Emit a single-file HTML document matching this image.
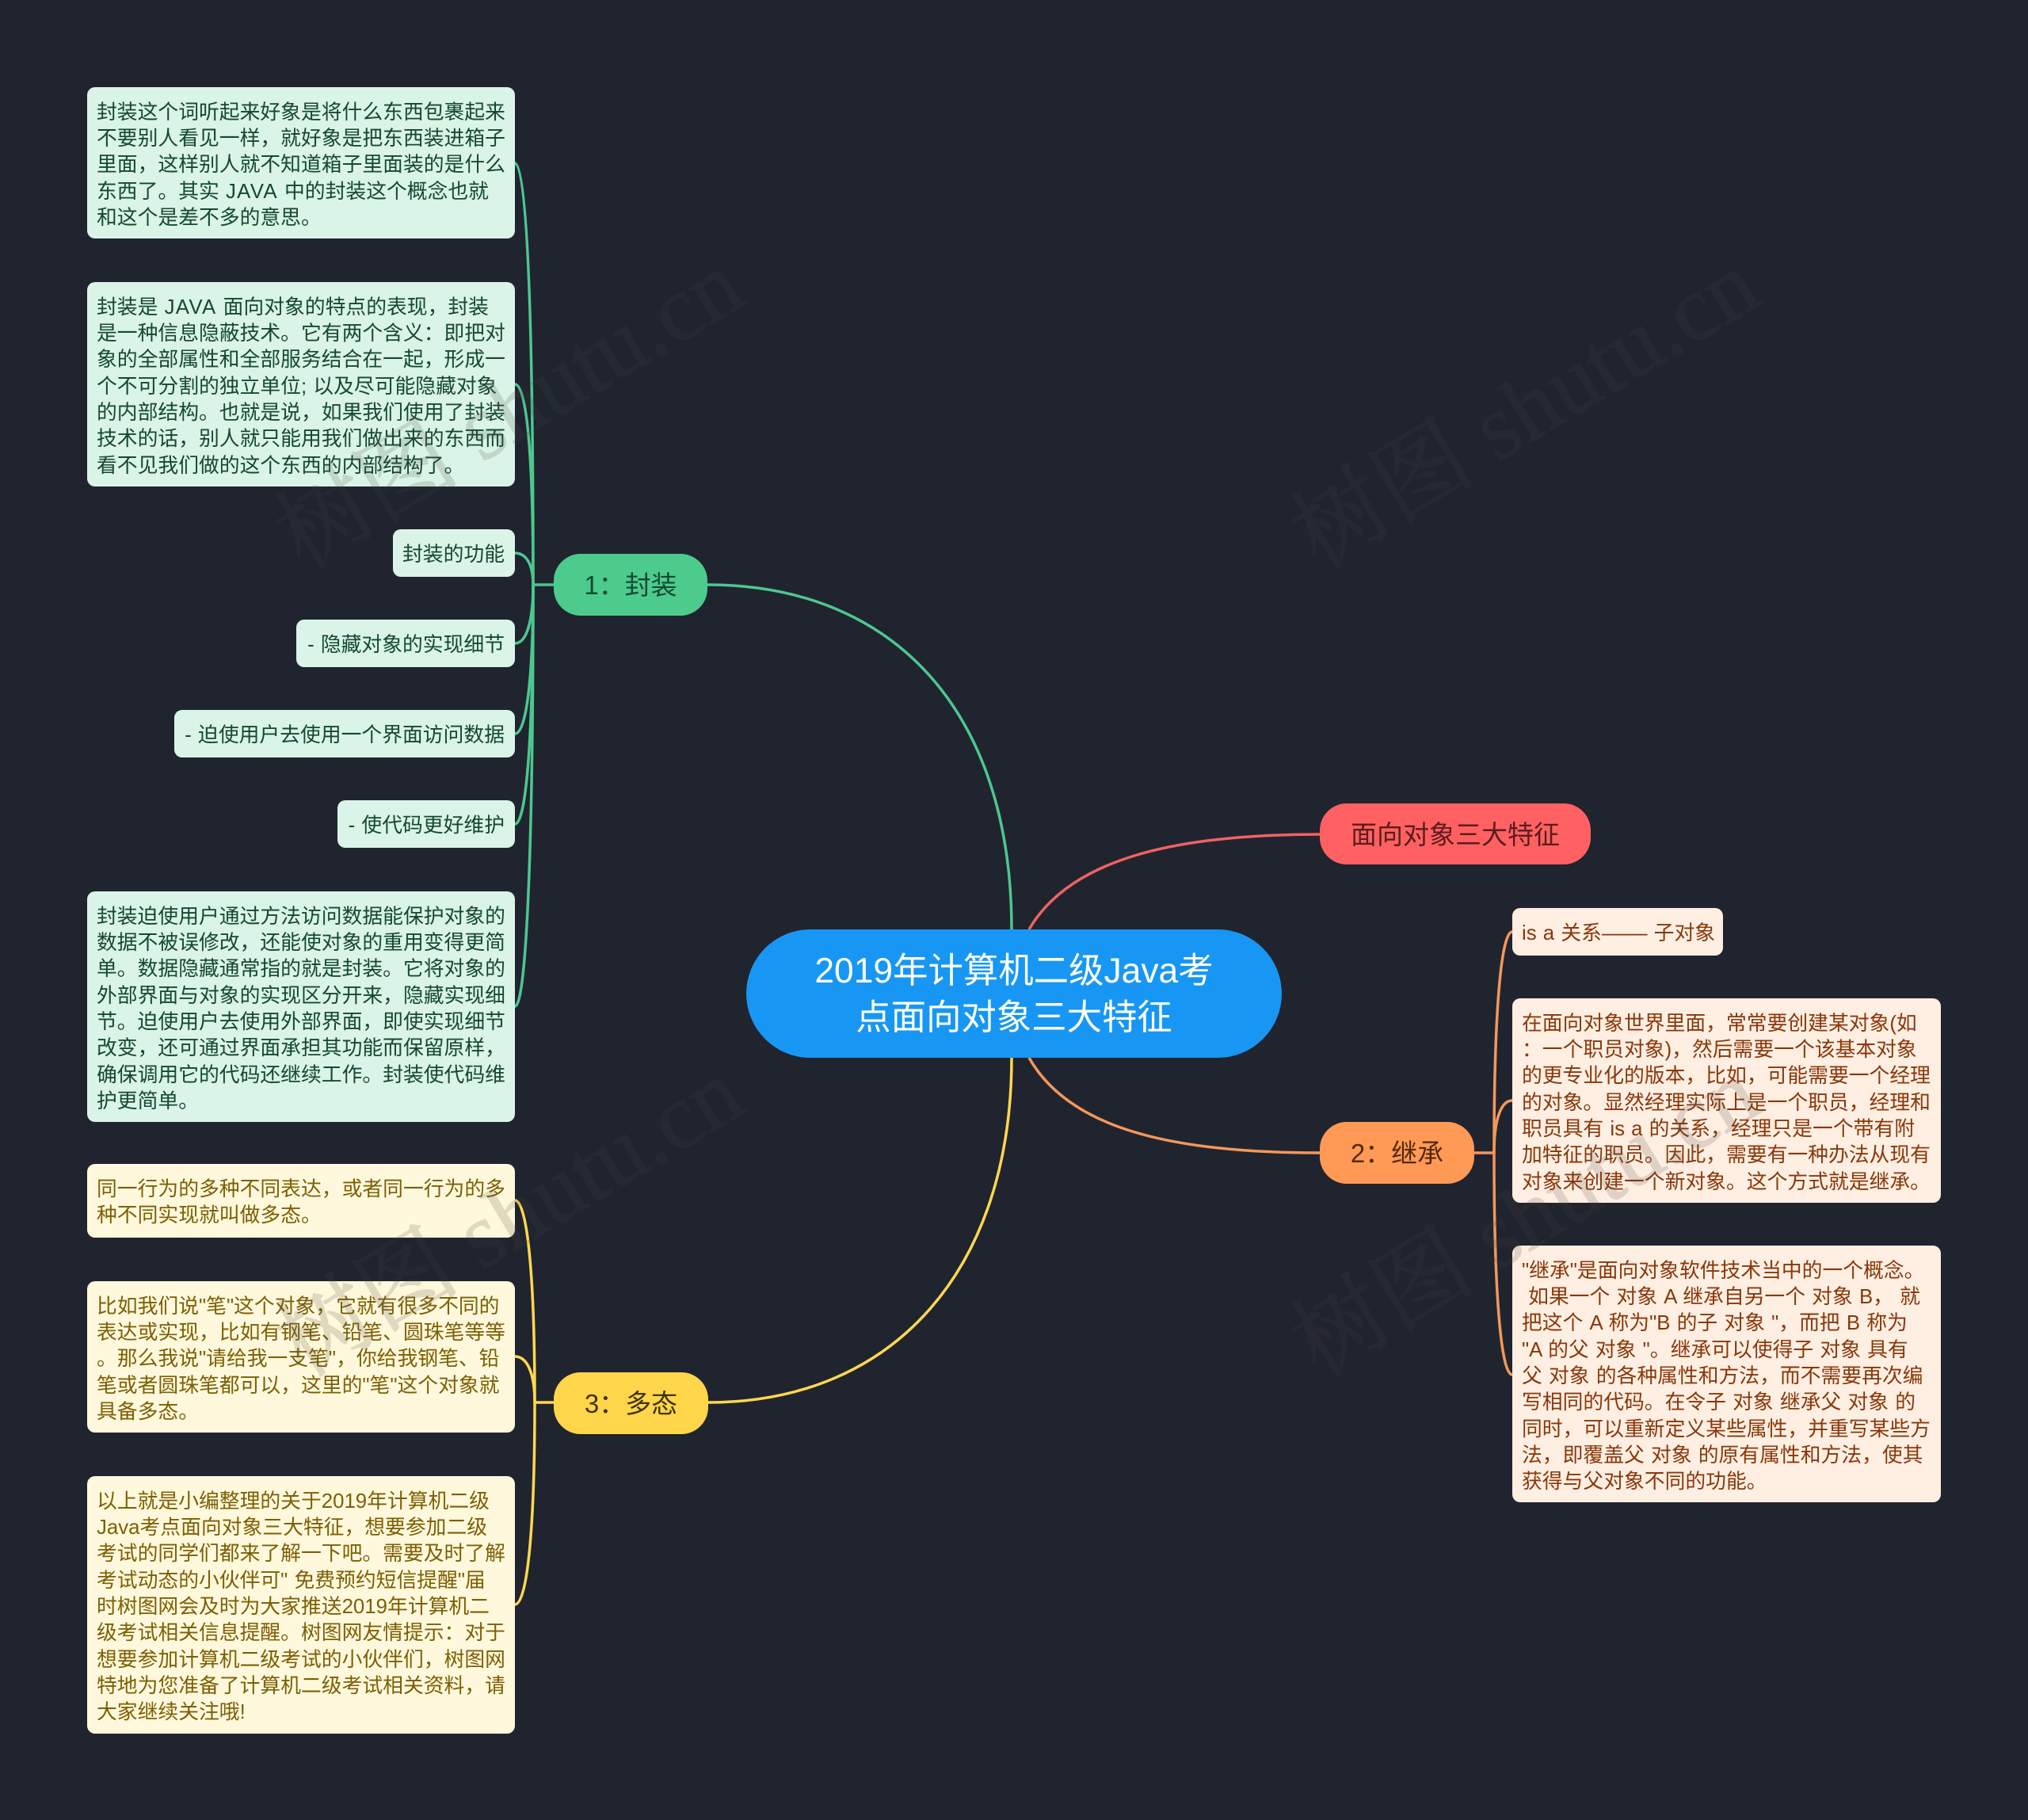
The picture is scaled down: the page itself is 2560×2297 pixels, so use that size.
<!DOCTYPE html>
<html lang="zh-CN">
<head>
<meta charset="utf-8">
<title>2019年计算机二级Java考点面向对象三大特征</title>
<style>
html,body{margin:0;padding:0;background:#20242f;}
#p{position:relative;width:2560px;height:2297px;overflow:hidden;background:#20242f;font-family:"Liberation Sans","Noto Sans CJK SC",sans-serif;}
svg.l{position:absolute;left:0;top:0;}
.n{position:absolute;box-sizing:border-box;white-space:pre;}
.c{font-size:25.8px;line-height:33.28px;padding:15.9px 13px 0 12px;border-radius:10px;word-spacing:1px;}
.c b{font-weight:normal;letter-spacing:1.3px;}
.c i{font-style:normal;display:inline-block;transform:scaleX(1.12);margin:0 3px;}
.g{background:#daf4e7;color:#15492f;}
.o{background:#ffeee2;color:#88380a;}
.y{background:#fff8dc;color:#7d6005;}
.r{text-align:right;}
.pill{font-size:33px;line-height:41.6px;padding-top:2px;text-align:center;border-radius:34px;display:flex;align-items:center;justify-content:center;}
.w{position:absolute;width:900px;height:140px;line-height:140px;margin:-70px 0 0 -450px;text-align:center;font-family:"Liberation Serif","Noto Serif CJK SC",serif;font-size:117px;color:#46463c;opacity:.17;-webkit-text-stroke:1.5px #46463c;transform:rotate(-31deg);white-space:pre;}
</style>
</head>
<body>
<div id="p">
<svg class="l" width="2560" height="2297" viewBox="0 0 2560 2297" fill="none" stroke-width="3.5">
<g stroke="#4dc78f">
<path d="M893 738C1130 738 1277 900 1277 1173"/>
<path d="M673 738H699"/>
<path d="M650 206C665 206 673 392 673 738"/>
<path d="M650 485C665 485 673 574 673 738"/>
<path d="M650 698C664 698 673 712 673 738"/>
<path d="M650 812C664 812 673 786 673 738"/>
<path d="M650 926C664 926 673 860 673 738"/>
<path d="M650 1040C664 1040 673 935 673 738"/>
<path d="M650 1270C664 1270 673 1080 673 738"/>
</g>
<path stroke="#f06262" d="M1299 1173C1350 1085 1480 1053 1666 1053"/>
<g stroke="#f5975a">
<path d="M1299 1335C1350 1425 1480 1455 1666 1455"/>
<path d="M1861 1455H1886"/>
<path d="M1909 1176C1895 1176 1886 1274 1886 1455"/>
<path d="M1909 1389C1895 1389 1886 1412 1886 1455"/>
<path d="M1909 1735C1895 1735 1886 1637 1886 1455"/>
</g>
<g stroke="#ffd84f">
<path d="M894 1770C1130 1770 1277 1600 1277 1335"/>
<path d="M675 1770H699"/>
<path d="M650 1515C665 1515 675 1604 675 1770"/>
<path d="M650 1712C665 1712 675 1732 675 1770"/>
<path d="M650 2025C665 2025 675 1936 675 1770"/>
</g>
</svg>

<div class="n pill" style="left:942px;top:1173px;width:676px;height:162px;border-radius:81px;background:#1797f3;color:#fff;font-size:44.4px;line-height:59px;">2019年计算机二级Java考<br>点面向对象三大特征</div>
<div class="n pill" style="left:699px;top:699px;width:194px;height:78px;background:#4ccb8d;color:#15492f;">1：封装</div>
<div class="n pill" style="left:1666px;top:1014px;width:342px;height:77px;background:#ff6162;color:#5c1c1c;">面向对象三大特征</div>
<div class="n pill" style="left:1666px;top:1416px;width:195px;height:78px;background:#ff9a56;color:#55290c;">2：继承</div>
<div class="n pill" style="left:699px;top:1732px;width:195px;height:78px;background:#ffd64a;color:#3f3206;">3：多态</div>

<div class="n c g" style="left:110px;top:110px;width:540px;height:191px;">封装这个词听起来好象是将什么东西包裹起来
不要别人看见一样，就好象是把东西装进箱子
里面，这样别人就不知道箱子里面装的是什么
东西了。其实 <b>JAVA</b> 中的封装这个概念也就
和这个是差不多的意思。</div>
<div class="n c g" style="left:110px;top:356px;width:540px;height:258px;">封装是 <b>JAVA</b> 面向对象的特点的表现，封装
是一种信息隐蔽技术。它有两个含义：即把对
象的全部属性和全部服务结合在一起，形成一
个不可分割的独立单位; 以及尽可能隐藏对象
的内部结构。也就是说，如果我们使用了封装
技术的话，别人就只能用我们做出来的东西而
看不见我们做的这个东西的内部结构了。</div>
<div class="n c g r" style="left:496px;top:668px;width:154px;height:60px;">封装的功能</div>
<div class="n c g r" style="left:374px;top:782px;width:276px;height:60px;">- 隐藏对象的实现细节</div>
<div class="n c g r" style="left:220px;top:896px;width:430px;height:60px;">- 迫使用户去使用一个界面访问数据</div>
<div class="n c g r" style="left:426px;top:1010px;width:224px;height:60px;">- 使代码更好维护</div>
<div class="n c g" style="left:110px;top:1125px;width:540px;height:291px;">封装迫使用户通过方法访问数据能保护对象的
数据不被误修改，还能使对象的重用变得更简
单。数据隐藏通常指的就是封装。它将对象的
外部界面与对象的实现区分开来，隐藏实现细
节。迫使用户去使用外部界面，即使实现细节
改变，还可通过界面承担其功能而保留原样，
确保调用它的代码还继续工作。封装使代码维
护更简单。</div>

<div class="n c y" style="left:110px;top:1469px;width:540px;height:93px;">同一行为的多种不同表达，或者同一行为的多
种不同实现就叫做多态。</div>
<div class="n c y" style="left:110px;top:1617px;width:540px;height:191px;">比如我们说"笔"这个对象，它就有很多不同的
表达或实现，比如有钢笔、铅笔、圆珠笔等等
。那么我说"请给我一支笔"，你给我钢笔、铅
笔或者圆珠笔都可以，这里的"笔"这个对象就
具备多态。</div>
<div class="n c y" style="left:110px;top:1863px;width:540px;height:325px;">以上就是小编整理的关于2019年计算机二级
Java考点面向对象三大特征，想要参加二级
考试的同学们都来了解一下吧。需要及时了解
考试动态的小伙伴可" 免费预约短信提醒"届
时树图网会及时为大家推送2019年计算机二
级考试相关信息提醒。树图网友情提示：对于
想要参加计算机二级考试的小伙伴们，树图网
特地为您准备了计算机二级考试相关资料，请
大家继续关注哦!</div>

<div class="n c o" style="left:1909px;top:1146px;width:266px;height:60px;">is a 关系<i>——</i> 子对象</div>
<div class="n c o" style="left:1909px;top:1260px;width:541px;height:258px;">在面向对象世界里面，常常要创建某对象(如
：一个职员对象)，然后需要一个该基本对象
的更专业化的版本，比如，可能需要一个经理
的对象。显然经理实际上是一个职员，经理和
职员具有 is a 的关系，经理只是一个带有附
加特征的职员。因此，需要有一种办法从现有
对象来创建一个新对象。这个方式就是继承。</div>
<div class="n c o" style="left:1909px;top:1572px;width:541px;height:324px;">"继承"是面向对象软件技术当中的一个概念。
 如果一个 对象 A 继承自另一个 对象 B， 就
把这个 A 称为"B 的子 对象 "，而把 B 称为
"A 的父 对象 "。继承可以使得子 对象 具有
父 对象 的各种属性和方法，而不需要再次编
写相同的代码。在令子 对象 继承父 对象 的
同时，可以重新定义某些属性，并重写某些方
法，即覆盖父 对象 的原有属性和方法，使其
获得与父对象不同的功能。</div>

<div class="w" style="left:644px;top:518px;">树图 shutu.cn</div>
<div class="w" style="left:1926px;top:518px;">树图 shutu.cn</div>
<div class="w" style="left:644px;top:1538px;">树图 shutu.cn</div>
<div class="w" style="left:1926px;top:1538px;">树图 shutu.cn</div>
</div>
</body>
</html>
